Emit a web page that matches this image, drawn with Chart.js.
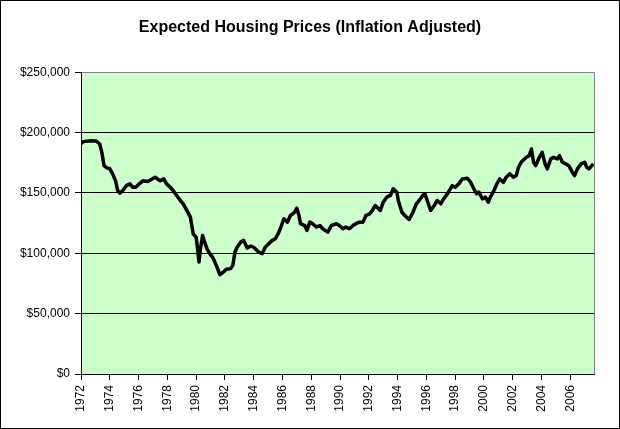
<!DOCTYPE html>
<html>
<head>
<meta charset="utf-8">
<script src="https://cdn.jsdelivr.net/npm/chart.js@4/dist/chart.umd.min.js"></script>
<style>
  html, body { margin: 0; padding: 0; background: #fff; }
  canvas { display: block; }
</style>
</head>
<body>
<canvas id="housingChart" width="620" height="429"></canvas>
<script>
// data (year, inflation adjusted price in $)
const years = [
  1972.0, 1972.15, 1972.7, 1973.05, 1973.3, 1973.45, 1973.6, 1973.75, 1974.0, 1974.2,
  1974.4, 1974.55, 1974.7, 1974.9, 1975.15, 1975.4, 1975.6, 1975.8, 1976.05, 1976.3,
  1976.65, 1977.0, 1977.15, 1977.5, 1977.75, 1977.95, 1978.2, 1978.4, 1978.65, 1978.9,
  1979.1, 1979.35, 1979.6, 1979.7, 1979.8, 1980.0, 1980.1, 1980.2, 1980.3, 1980.45,
  1980.55, 1980.75, 1980.95, 1981.2, 1981.45, 1981.65, 1981.9, 1982.1, 1982.4, 1982.55,
  1982.7, 1982.85, 1983.1, 1983.3, 1983.55, 1983.8, 1984.0, 1984.35, 1984.6, 1984.8,
  1985.05, 1985.3, 1985.5, 1985.7, 1985.85, 1986.1, 1986.35, 1986.55, 1986.8, 1987.0,
  1987.15, 1987.25, 1987.55, 1987.7, 1987.9, 1988.1, 1988.35, 1988.6, 1988.8, 1989.15,
  1989.4, 1989.75, 1989.95, 1990.2, 1990.4, 1990.65, 1990.9, 1991.1, 1991.35, 1991.6,
  1991.8, 1992.05, 1992.25, 1992.45, 1992.8, 1993.0, 1993.25, 1993.5, 1993.7, 1993.95,
  1994.05, 1994.3, 1994.5, 1994.8, 1995.05, 1995.3, 1995.5, 1995.75, 1995.9, 1996.1,
  1996.3, 1996.55, 1996.75, 1997.0, 1997.2, 1997.45, 1997.8, 1998.0, 1998.25, 1998.5,
  1998.85, 1999.05, 1999.3, 1999.5, 1999.65, 1999.9, 2000.1, 2000.3, 2000.45, 2000.7,
  2000.9, 2001.1, 2001.35, 2001.55, 2001.8, 2002.05, 2002.25, 2002.4, 2002.6, 2002.95,
  2003.15, 2003.3, 2003.45, 2003.6, 2003.85, 2004.05, 2004.25, 2004.4, 2004.65, 2004.85,
  2005.1, 2005.25, 2005.45, 2005.7, 2005.9, 2006.15, 2006.3, 2006.5, 2006.75, 2007.0,
  2007.15, 2007.3, 2007.5, 2007.6
];

const prices = [
  190600, 192500, 193300, 193000, 190500, 183600, 172600, 171000, 170000, 165800,
  160000, 152000, 149800, 152000, 156000, 157500, 154700, 154700, 157500, 160000,
  159400, 162000, 163000, 160000, 161600, 157500, 154700, 152000, 147900, 143700,
  141000, 135500, 130000, 123000, 116000, 113400, 103800, 92800, 103800, 114800,
  110700, 103800, 99700, 95600, 88600, 82300, 84500, 86700, 87300, 90000,
  101000, 105000, 109300, 110700, 104300, 106000, 105000, 101000, 99700, 105000,
  108000, 110700, 112000, 116200, 120300, 128600, 125800, 131300, 133500, 137400,
  131300, 124500, 123000, 119000, 125800, 124500, 121700, 123000, 120300, 117500,
  123000, 124500, 123000, 120300, 121700, 120300, 123000, 124500, 125800, 125800,
  131300, 132700, 135500, 139600, 135500, 142300, 146500, 147900, 153400, 150600,
  143700, 134000, 131300, 128000, 133500, 141000, 143700, 147900, 149300, 142300,
  135500, 139600, 143700, 141000, 145100, 149000, 156000, 154700, 157500, 161600,
  162100, 159400, 153400, 149300, 150600, 145100, 146500, 142300, 146500, 152000,
  157500, 161600, 158800, 163000, 165800, 163000, 164400, 171200, 175600, 179500,
  180900, 186400, 175400, 172600, 179500, 183600, 174000, 169900, 178200, 179500,
  178200, 180900, 175400, 174000, 172600, 167000, 164400, 169900, 174000, 175400,
  171200, 169900, 172600, 174000
];

const yTicks = [0, 50000, 100000, 150000, 200000, 250000];
const xFirst = 1972;
const xLast = 2007.65;

const points = years.map((yr, i) => ({ x: yr, y: prices[i] }));

// white page with black frame, green plot area
const backdrop = {
  id: "backdrop",
  beforeDraw(chart) {
    const c = chart.ctx;
    const a = chart.chartArea;
    c.save();
    c.fillStyle = "#ffffff";
    c.fillRect(0, 0, chart.width, chart.height);
    c.fillStyle = "#CCFFCC";
    c.fillRect(a.left, a.top, a.right - a.left, a.bottom - a.top);
    c.restore();
  },
  afterDraw(chart) {
    const c = chart.ctx;
    const a = chart.chartArea;
    c.save();
    c.strokeStyle = "#808080";
    c.lineWidth = 1;
    c.beginPath();
    c.moveTo(Math.round(a.right) + 0.5, Math.round(a.top) + 0.5);
    c.lineTo(Math.round(a.right) + 0.5, Math.round(a.bottom) + 0.5);
    c.stroke();
    c.strokeStyle = "#000000";
    c.strokeRect(0.5, 0.5, chart.width - 1, chart.height - 1);
    c.restore();
  },
};

const font12 = { family: "'Liberation Sans', Arial, sans-serif", size: 12 };

new Chart(document.getElementById("housingChart").getContext("2d"), {
  type: "line",
  data: {
    datasets: [
      {
        data: points,
        borderColor: "#000000",
        borderWidth: 3.5,
        borderJoinStyle: "round",
        pointRadius: 0,
        tension: 0,
        fill: false,
      },
    ],
  },
  options: {
    responsive: false,
    animation: false,
    devicePixelRatio: 1,
    layout: { padding: 0 },
    plugins: {
      legend: { display: false },
      tooltip: { enabled: false },
      title: {
        display: true,
        text: "Expected Housing Prices (Inflation Adjusted)",
        color: "#000000",
        font: { family: "'Liberation Sans', Arial, sans-serif", size: 16, weight: "bold", lineHeight: 1.2 },
        padding: { top: 18, bottom: 35 },
      },
    },
    scales: {
      x: {
        type: "linear",
        min: xFirst,
        max: xLast,
        afterFit: (scale) => { scale.height = 55; },
        grid: { drawOnChartArea: false, drawTicks: true, tickLength: 6, color: "#000000" },
        border: { color: "#000000", width: 1 },
        ticks: {
          stepSize: 2,
          includeBounds: false,
          autoSkip: false,
          minRotation: 90,
          maxRotation: 90,
          padding: 5,
          color: "#000000",
          font: font12,
          callback: (v) => String(v),
        },
      },
      y: {
        min: yTicks[0],
        max: yTicks[yTicks.length - 1],
        afterFit: (scale) => { scale.width = 81; },
        afterBuildTicks: (scale) => { scale.ticks = yTicks.map((v) => ({ value: v })); },
        grid: {
          color: (ctx) => (ctx.tick && ctx.tick.value === 250000 ? "#808080" : "#000000"),
          tickColor: "#000000",
          tickLength: 6,
          lineWidth: 1,
        },
        border: { color: "#000000", width: 1 },
        ticks: {
          padding: 5,
          color: "#000000",
          font: font12,
          callback: (v) => "$" + Number(v).toLocaleString("en-US"),
        },
      },
      // empty strip on the right so the plot ends where the reference does
      rightGap: {
        type: "linear",
        position: "right",
        afterFit: (scale) => { scale.width = 26; },
        grid: { display: false },
        border: { display: false },
        ticks: { display: false },
      },
    },
  },
  plugins: [backdrop],
});
</script>
</body>
</html>
